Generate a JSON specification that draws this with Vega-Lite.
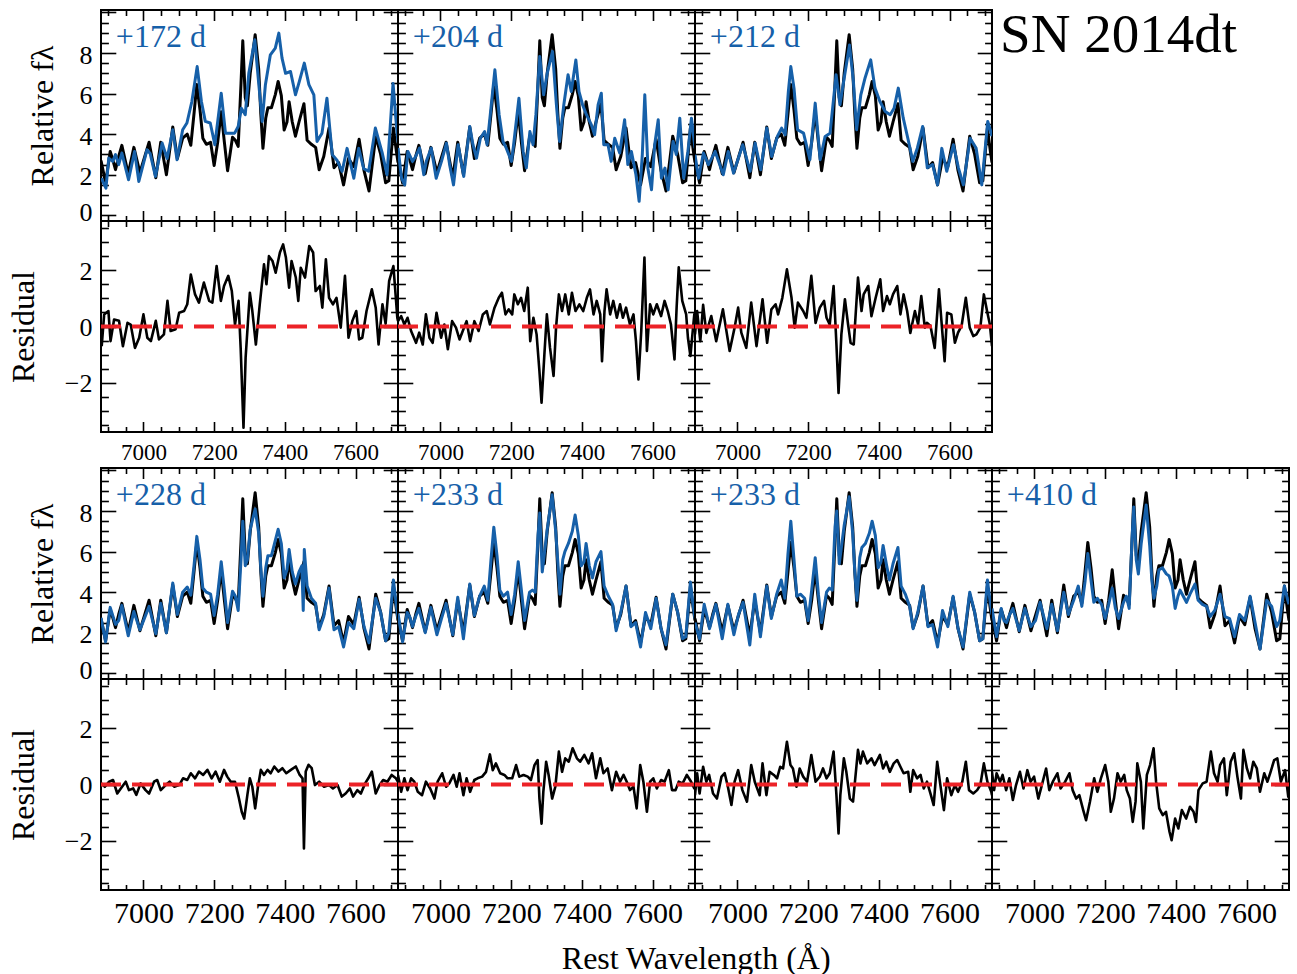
{
  "$schema": "https://vega.github.io/schema/vega-lite/v6.json",
  "padding": {"left": 6, "top": 8, "right": 5, "bottom": 0},
  "config": {
    "view": {"stroke": "black", "strokeWidth": 2},
    "axis": {"domain": false, "grid": false, "tickColor": "black", "tickWidth": 1.6, "labelFont": "Liberation Serif", "labelColor": "black", "titleFont": "Liberation Serif", "titleFontWeight": "normal", "titleColor": "black", "labelFontSize": 26},
    "text": {"font": "Liberation Serif"}
  },
  "datasets": {
    "ref": [{"w":6880,"v":2.7},{"w":6893,"v":1.6},{"w":6906,"v":3.15},{"w":6914,"v":2.7},{"w":6921,"v":2.25},{"w":6930,"v":2.9},{"w":6939,"v":3.45},{"w":6957,"v":2.05},{"w":6973,"v":3.35},{"w":6990,"v":2.1},{"w":7016,"v":3.6},{"w":7035,"v":1.85},{"w":7049,"v":3.6},{"w":7065,"v":2.0},{"w":7083,"v":4.35},{"w":7096,"v":2.8},{"w":7111,"v":3.8},{"w":7124,"v":4.0},{"w":7134,"v":3.45},{"w":7143,"v":5.0},{"w":7151,"v":6.45},{"w":7160,"v":5.2},{"w":7168,"v":3.8},{"w":7178,"v":3.5},{"w":7190,"v":3.6},{"w":7200,"v":2.45},{"w":7210,"v":3.6},{"w":7220,"v":5.1},{"w":7229,"v":3.6},{"w":7238,"v":2.2},{"w":7252,"v":3.85},{"w":7260,"v":3.7},{"w":7268,"v":3.4},{"w":7276,"v":6.5},{"w":7281,"v":8.6},{"w":7288,"v":5.8},{"w":7294,"v":5.4},{"w":7302,"v":7.0},{"w":7316,"v":8.9},{"w":7326,"v":7.2},{"w":7332,"v":5.0},{"w":7338,"v":3.3},{"w":7346,"v":4.8},{"w":7352,"v":5.3},{"w":7362,"v":5.3},{"w":7373,"v":5.95},{"w":7381,"v":6.6},{"w":7390,"v":5.9},{"w":7398,"v":4.2},{"w":7406,"v":4.6},{"w":7412,"v":5.6},{"w":7421,"v":4.6},{"w":7430,"v":3.9},{"w":7440,"v":4.6},{"w":7454,"v":5.5},{"w":7463,"v":3.7},{"w":7475,"v":3.5},{"w":7487,"v":3.35},{"w":7497,"v":2.25},{"w":7510,"v":2.9},{"w":7525,"v":4.3},{"w":7539,"v":2.35},{"w":7552,"v":2.6},{"w":7566,"v":1.5},{"w":7580,"v":2.8},{"w":7595,"v":2.4},{"w":7610,"v":3.75},{"w":7624,"v":2.2},{"w":7638,"v":1.2},{"w":7657,"v":3.9},{"w":7671,"v":3.0},{"w":7685,"v":1.6},{"w":7694,"v":1.7},{"w":7707,"v":4.3},{"w":7715,"v":3.2},{"w":7720,"v":2.6}],
    "b1": [{"w":6881,"v":1.83},{"w":6894,"v":1.34},{"w":6902,"v":2.82},{"w":6913,"v":2.66},{"w":6921,"v":2.99},{"w":6930,"v":2.5},{"w":6939,"v":3.07},{"w":6958,"v":1.75},{"w":6975,"v":3.15},{"w":6987,"v":1.67},{"w":7010,"v":3.23},{"w":7019,"v":3.05},{"w":7034,"v":1.92},{"w":7053,"v":3.56},{"w":7067,"v":2.8},{"w":7083,"v":4.22},{"w":7095,"v":2.74},{"w":7111,"v":4.22},{"w":7123,"v":4.55},{"w":7137,"v":5.61},{"w":7152,"v":7.33},{"w":7164,"v":5.61},{"w":7175,"v":4.63},{"w":7189,"v":4.55},{"w":7202,"v":3.48},{"w":7220,"v":6.02},{"w":7232,"v":4.05},{"w":7246,"v":4.05},{"w":7258,"v":4.05},{"w":7268,"v":4.38},{"w":7277,"v":5.28},{"w":7288,"v":4.96},{"w":7298,"v":7.0},{"w":7315,"v":8.65},{"w":7326,"v":6.52},{"w":7336,"v":4.63},{"w":7345,"v":6.44},{"w":7359,"v":7.91},{"w":7373,"v":8.24},{"w":7383,"v":8.98},{"w":7392,"v":7.75},{"w":7402,"v":7.0},{"w":7416,"v":7.09},{"w":7430,"v":5.94},{"w":7441,"v":6.6},{"w":7455,"v":7.5},{"w":7468,"v":6.44},{"w":7482,"v":5.94},{"w":7491,"v":3.64},{"w":7505,"v":4.05},{"w":7519,"v":5.77},{"w":7534,"v":2.99},{"w":7548,"v":2.7},{"w":7562,"v":2.17},{"w":7576,"v":3.3},{"w":7595,"v":1.83},{"w":7609,"v":3.3},{"w":7623,"v":2.3},{"w":7637,"v":2.17},{"w":7656,"v":4.3},{"w":7675,"v":3.1},{"w":7689,"v":2.0},{"w":7706,"v":6.5},{"w":7717,"v":4.13},{"w":7720,"v":3.6}],
    "b2": [{"w":6880,"v":3.32},{"w":6890,"v":1.83},{"w":6899,"v":1.5},{"w":6908,"v":3.15},{"w":6921,"v":2.66},{"w":6930,"v":2.9},{"w":6941,"v":3.32},{"w":6953,"v":2.0},{"w":6960,"v":2.66},{"w":6974,"v":3.32},{"w":6988,"v":1.83},{"w":7003,"v":2.66},{"w":7017,"v":3.56},{"w":7026,"v":2.5},{"w":7037,"v":1.5},{"w":7050,"v":3.48},{"w":7066,"v":1.92},{"w":7083,"v":4.38},{"w":7092,"v":3.48},{"w":7102,"v":2.82},{"w":7113,"v":3.8},{"w":7125,"v":4.13},{"w":7132,"v":3.48},{"w":7141,"v":4.96},{"w":7154,"v":7.17},{"w":7166,"v":4.96},{"w":7177,"v":3.64},{"w":7186,"v":3.32},{"w":7201,"v":2.66},{"w":7207,"v":3.48},{"w":7222,"v":5.77},{"w":7234,"v":3.15},{"w":7243,"v":2.34},{"w":7253,"v":4.13},{"w":7262,"v":3.48},{"w":7270,"v":4.96},{"w":7281,"v":7.83},{"w":7292,"v":5.94},{"w":7302,"v":7.0},{"w":7317,"v":8.08},{"w":7328,"v":5.45},{"w":7337,"v":3.64},{"w":7349,"v":5.45},{"w":7361,"v":6.93},{"w":7370,"v":6.1},{"w":7383,"v":7.66},{"w":7392,"v":6.1},{"w":7402,"v":5.45},{"w":7413,"v":4.96},{"w":7427,"v":4.46},{"w":7436,"v":3.97},{"w":7446,"v":5.45},{"w":7455,"v":6.02},{"w":7462,"v":3.48},{"w":7474,"v":3.48},{"w":7483,"v":2.66},{"w":7493,"v":3.8},{"w":7507,"v":3.07},{"w":7521,"v":4.71},{"w":7530,"v":2.5},{"w":7540,"v":3.15},{"w":7553,"v":2.0},{"w":7562,"v":0.69},{"w":7571,"v":3.0},{"w":7578,"v":5.94},{"w":7587,"v":2.3},{"w":7597,"v":1.26},{"w":7606,"v":3.48},{"w":7616,"v":4.71},{"w":7625,"v":1.83},{"w":7635,"v":2.33},{"w":7644,"v":1.26},{"w":7658,"v":3.64},{"w":7667,"v":3.0},{"w":7677,"v":4.79},{"w":7688,"v":1.83},{"w":7700,"v":3.15},{"w":7710,"v":4.79},{"w":7720,"v":3.3}],
    "b3": [{"w":6880,"v":2.99},{"w":6890,"v":1.83},{"w":6904,"v":3.07},{"w":6918,"v":2.5},{"w":6937,"v":3.15},{"w":6960,"v":2.0},{"w":6974,"v":3.15},{"w":6989,"v":2.08},{"w":7015,"v":3.48},{"w":7036,"v":2.17},{"w":7050,"v":3.56},{"w":7066,"v":2.25},{"w":7083,"v":4.3},{"w":7097,"v":2.9},{"w":7113,"v":3.89},{"w":7125,"v":4.3},{"w":7135,"v":3.97},{"w":7144,"v":6.1},{"w":7151,"v":7.33},{"w":7160,"v":6.27},{"w":7170,"v":4.22},{"w":7187,"v":4.05},{"w":7205,"v":2.74},{"w":7220,"v":5.53},{"w":7234,"v":2.74},{"w":7248,"v":3.89},{"w":7262,"v":4.05},{"w":7279,"v":6.93},{"w":7290,"v":5.45},{"w":7302,"v":6.77},{"w":7317,"v":8.4},{"w":7328,"v":6.6},{"w":7337,"v":4.22},{"w":7349,"v":5.94},{"w":7361,"v":6.77},{"w":7377,"v":7.66},{"w":7389,"v":6.27},{"w":7403,"v":5.61},{"w":7418,"v":5.12},{"w":7432,"v":4.96},{"w":7443,"v":5.28},{"w":7455,"v":6.27},{"w":7469,"v":4.79},{"w":7484,"v":3.64},{"w":7496,"v":2.66},{"w":7509,"v":3.32},{"w":7524,"v":4.38},{"w":7537,"v":2.34},{"w":7552,"v":2.5},{"w":7566,"v":1.5},{"w":7578,"v":3.3},{"w":7592,"v":2.17},{"w":7611,"v":3.48},{"w":7625,"v":2.34},{"w":7639,"v":1.5},{"w":7658,"v":3.8},{"w":7675,"v":3.32},{"w":7691,"v":1.5},{"w":7708,"v":4.63},{"w":7719,"v":3.97},{"w":7720,"v":3.9}],
    "b4": [{"w":6880,"v":2.74},{"w":6893,"v":1.55},{"w":6906,"v":3.25},{"w":6914,"v":2.8},{"w":6921,"v":2.41},{"w":6930,"v":2.6},{"w":6939,"v":3.35},{"w":6957,"v":1.85},{"w":6973,"v":3.05},{"w":6990,"v":2.14},{"w":7016,"v":3.3},{"w":7035,"v":1.95},{"w":7049,"v":3.45},{"w":7065,"v":2.0},{"w":7083,"v":4.45},{"w":7096,"v":2.9},{"w":7111,"v":4.0},{"w":7124,"v":4.25},{"w":7134,"v":3.85},{"w":7143,"v":5.3},{"w":7151,"v":6.75},{"w":7160,"v":5.6},{"w":7168,"v":4.2},{"w":7178,"v":4.0},{"w":7190,"v":3.9},{"w":7200,"v":2.85},{"w":7210,"v":3.9},{"w":7220,"v":5.5},{"w":7229,"v":4.1},{"w":7238,"v":2.5},{"w":7252,"v":4.05},{"w":7260,"v":3.8},{"w":7268,"v":3.1},{"w":7276,"v":5.6},{"w":7281,"v":7.5},{"w":7288,"v":5.3},{"w":7294,"v":5.6},{"w":7302,"v":7.1},{"w":7316,"v":8.1},{"w":7326,"v":6.9},{"w":7332,"v":5.2},{"w":7338,"v":3.8},{"w":7346,"v":5.2},{"w":7352,"v":5.8},{"w":7362,"v":5.8},{"w":7373,"v":6.55},{"w":7381,"v":7.1},{"w":7390,"v":6.4},{"w":7398,"v":4.7},{"w":7406,"v":5.1},{"w":7412,"v":6.1},{"w":7421,"v":5.0},{"w":7430,"v":4.4},{"w":7440,"v":5.0},{"w":7448,"v":5.3},{"w":7452,"v":3.1},{"w":7455,"v":6.1},{"w":7463,"v":4.3},{"w":7475,"v":3.7},{"w":7487,"v":3.45},{"w":7497,"v":2.15},{"w":7510,"v":2.8},{"w":7525,"v":4.2},{"w":7539,"v":2.15},{"w":7552,"v":2.3},{"w":7566,"v":1.3},{"w":7580,"v":2.5},{"w":7595,"v":2.2},{"w":7610,"v":3.65},{"w":7624,"v":2.3},{"w":7638,"v":1.5},{"w":7657,"v":3.7},{"w":7671,"v":3.0},{"w":7685,"v":1.6},{"w":7694,"v":2.0},{"w":7707,"v":4.6},{"w":7715,"v":3.4},{"w":7720,"v":2.7}],
    "b5": [{"w":6880,"v":2.95},{"w":6893,"v":1.55},{"w":6906,"v":3.0},{"w":6914,"v":2.75},{"w":6921,"v":2.3},{"w":6930,"v":2.8},{"w":6939,"v":3.2},{"w":6957,"v":2.0},{"w":6973,"v":3.25},{"w":6990,"v":1.9},{"w":7003,"v":2.7},{"w":7016,"v":3.45},{"w":7035,"v":1.9},{"w":7049,"v":3.75},{"w":7065,"v":1.7},{"w":7083,"v":4.4},{"w":7096,"v":2.85},{"w":7111,"v":3.8},{"w":7124,"v":4.3},{"w":7134,"v":3.6},{"w":7143,"v":5.6},{"w":7151,"v":7.2},{"w":7160,"v":5.8},{"w":7168,"v":4.1},{"w":7178,"v":3.8},{"w":7190,"v":4.0},{"w":7200,"v":2.9},{"w":7210,"v":3.9},{"w":7220,"v":5.5},{"w":7229,"v":4.1},{"w":7238,"v":2.6},{"w":7252,"v":4.0},{"w":7260,"v":4.1},{"w":7268,"v":4.0},{"w":7276,"v":6.8},{"w":7281,"v":7.9},{"w":7288,"v":5.0},{"w":7294,"v":5.9},{"w":7302,"v":7.1},{"w":7316,"v":8.8},{"w":7326,"v":7.0},{"w":7332,"v":5.5},{"w":7338,"v":3.9},{"w":7346,"v":5.6},{"w":7352,"v":6.0},{"w":7362,"v":6.4},{"w":7373,"v":7.0},{"w":7381,"v":7.8},{"w":7390,"v":6.8},{"w":7398,"v":5.3},{"w":7406,"v":5.5},{"w":7412,"v":6.4},{"w":7421,"v":5.3},{"w":7430,"v":4.7},{"w":7440,"v":5.5},{"w":7454,"v":6.0},{"w":7463,"v":4.3},{"w":7475,"v":3.8},{"w":7487,"v":3.4},{"w":7497,"v":2.1},{"w":7510,"v":3.0},{"w":7525,"v":4.3},{"w":7539,"v":2.3},{"w":7552,"v":2.5},{"w":7566,"v":1.3},{"w":7580,"v":3.0},{"w":7595,"v":2.2},{"w":7610,"v":3.7},{"w":7624,"v":2.2},{"w":7638,"v":1.4},{"w":7657,"v":3.9},{"w":7671,"v":3.0},{"w":7685,"v":1.7},{"w":7694,"v":1.8},{"w":7707,"v":4.5},{"w":7715,"v":3.3},{"w":7720,"v":2.7}],
    "b6": [{"w":6880,"v":2.5},{"w":6893,"v":1.7},{"w":6906,"v":3.4},{"w":6914,"v":2.8},{"w":6921,"v":2.2},{"w":6930,"v":2.8},{"w":6939,"v":3.4},{"w":6957,"v":1.7},{"w":6973,"v":3.4},{"w":6990,"v":1.9},{"w":7003,"v":2.9},{"w":7016,"v":3.5},{"w":7035,"v":1.4},{"w":7049,"v":3.9},{"w":7065,"v":1.8},{"w":7083,"v":4.3},{"w":7096,"v":2.7},{"w":7111,"v":3.9},{"w":7124,"v":4.6},{"w":7134,"v":3.7},{"w":7143,"v":5.9},{"w":7151,"v":7.5},{"w":7160,"v":5.6},{"w":7168,"v":3.8},{"w":7178,"v":3.9},{"w":7190,"v":3.7},{"w":7200,"v":2.6},{"w":7210,"v":4.1},{"w":7220,"v":5.7},{"w":7229,"v":3.9},{"w":7238,"v":2.5},{"w":7252,"v":4.0},{"w":7260,"v":4.2},{"w":7268,"v":4.1},{"w":7276,"v":7.2},{"w":7281,"v":8.0},{"w":7288,"v":5.4},{"w":7294,"v":6.2},{"w":7302,"v":7.3},{"w":7316,"v":8.7},{"w":7326,"v":6.9},{"w":7332,"v":5.0},{"w":7338,"v":3.6},{"w":7346,"v":5.7},{"w":7352,"v":6.2},{"w":7362,"v":6.4},{"w":7373,"v":6.9},{"w":7381,"v":7.5},{"w":7390,"v":6.8},{"w":7398,"v":5.2},{"w":7406,"v":5.5},{"w":7412,"v":6.3},{"w":7421,"v":5.4},{"w":7430,"v":4.6},{"w":7440,"v":5.4},{"w":7454,"v":6.2},{"w":7463,"v":4.3},{"w":7475,"v":3.9},{"w":7487,"v":3.3},{"w":7497,"v":2.2},{"w":7510,"v":3.0},{"w":7525,"v":4.3},{"w":7539,"v":2.3},{"w":7552,"v":2.4},{"w":7566,"v":1.3},{"w":7580,"v":3.1},{"w":7595,"v":2.3},{"w":7610,"v":3.8},{"w":7624,"v":2.2},{"w":7638,"v":1.3},{"w":7657,"v":4.0},{"w":7671,"v":3.0},{"w":7685,"v":1.6},{"w":7694,"v":1.7},{"w":7707,"v":4.6},{"w":7715,"v":3.5},{"w":7720,"v":2.9}],
    "b7": [{"w":6880,"v":3.2},{"w":6893,"v":1.8},{"w":6906,"v":3.2},{"w":6914,"v":2.6},{"w":6921,"v":2.5},{"w":6930,"v":2.9},{"w":6939,"v":3.2},{"w":6957,"v":2.1},{"w":6973,"v":3.2},{"w":6990,"v":2.3},{"w":7003,"v":2.6},{"w":7016,"v":3.5},{"w":7035,"v":2.2},{"w":7049,"v":3.4},{"w":7065,"v":2.1},{"w":7083,"v":4.0},{"w":7096,"v":2.9},{"w":7111,"v":3.6},{"w":7124,"v":4.3},{"w":7134,"v":3.3},{"w":7143,"v":4.5},{"w":7151,"v":5.9},{"w":7160,"v":4.6},{"w":7168,"v":3.5},{"w":7178,"v":3.7},{"w":7190,"v":3.4},{"w":7200,"v":2.7},{"w":7210,"v":3.4},{"w":7220,"v":4.2},{"w":7229,"v":3.2},{"w":7238,"v":2.7},{"w":7252,"v":3.5},{"w":7260,"v":3.8},{"w":7268,"v":3.2},{"w":7276,"v":6.6},{"w":7281,"v":8.2},{"w":7288,"v":5.6},{"w":7294,"v":4.9},{"w":7302,"v":6.4},{"w":7316,"v":8.3},{"w":7326,"v":6.3},{"w":7332,"v":4.6},{"w":7338,"v":3.7},{"w":7346,"v":4.3},{"w":7352,"v":5.1},{"w":7362,"v":5.2},{"w":7373,"v":4.9},{"w":7381,"v":4.8},{"w":7390,"v":4.3},{"w":7398,"v":3.2},{"w":7406,"v":3.8},{"w":7412,"v":4.1},{"w":7421,"v":3.8},{"w":7430,"v":3.5},{"w":7440,"v":3.9},{"w":7454,"v":4.4},{"w":7463,"v":3.6},{"w":7475,"v":3.4},{"w":7487,"v":3.3},{"w":7497,"v":2.8},{"w":7510,"v":3.1},{"w":7525,"v":3.9},{"w":7539,"v":2.8},{"w":7552,"v":2.7},{"w":7566,"v":1.8},{"w":7580,"v":2.9},{"w":7595,"v":2.6},{"w":7610,"v":3.8},{"w":7624,"v":2.5},{"w":7638,"v":1.2},{"w":7657,"v":3.6},{"w":7671,"v":3.3},{"w":7685,"v":2.3},{"w":7694,"v":2.6},{"w":7707,"v":4.3},{"w":7715,"v":3.7},{"w":7720,"v":3.4}],
    "r1": [{"w":6882,"v":-0.7},{"w":6889,"v":0.43},{"w":6901,"v":0.55},{"w":6907,"v":-0.52},{"w":6917,"v":0.25},{"w":6931,"v":0.2},{"w":6942,"v":-0.7},{"w":6955,"v":0.13},{"w":6964,"v":0.07},{"w":6976,"v":-0.76},{"w":6988,"v":-0.4},{"w":7000,"v":0.43},{"w":7011,"v":-0.4},{"w":7021,"v":-0.52},{"w":7035,"v":0.2},{"w":7044,"v":-0.46},{"w":7058,"v":-0.28},{"w":7068,"v":0.91},{"w":7077,"v":-0.16},{"w":7091,"v":-0.1},{"w":7101,"v":0.49},{"w":7115,"v":0.55},{"w":7124,"v":0.79},{"w":7134,"v":1.85},{"w":7146,"v":1.14},{"w":7157,"v":0.85},{"w":7171,"v":1.56},{"w":7186,"v":0.91},{"w":7195,"v":0.85},{"w":7207,"v":2.15},{"w":7219,"v":0.91},{"w":7228,"v":1.44},{"w":7240,"v":1.8},{"w":7250,"v":1.26},{"w":7259,"v":0.07},{"w":7269,"v":0.91},{"w":7275,"v":-0.76},{"w":7283,"v":-3.6},{"w":7289,"v":-1.11},{"w":7301,"v":1.2},{"w":7308,"v":0.55},{"w":7318,"v":-0.64},{"w":7329,"v":0.79},{"w":7341,"v":2.21},{"w":7348,"v":1.5},{"w":7355,"v":2.5},{"w":7365,"v":2.33},{"w":7374,"v":1.91},{"w":7386,"v":2.63},{"w":7395,"v":2.92},{"w":7403,"v":2.45},{"w":7412,"v":1.38},{"w":7419,"v":2.33},{"w":7431,"v":1.74},{"w":7438,"v":0.91},{"w":7445,"v":2.09},{"w":7457,"v":1.74},{"w":7469,"v":2.86},{"w":7480,"v":2.63},{"w":7487,"v":1.26},{"w":7499,"v":1.44},{"w":7506,"v":0.67},{"w":7516,"v":2.39},{"w":7525,"v":1.02},{"w":7536,"v":0.79},{"w":7546,"v":1.02},{"w":7558,"v":-0.04},{"w":7570,"v":1.8},{"w":7580,"v":-0.4},{"w":7591,"v":0.2},{"w":7602,"v":0.55},{"w":7610,"v":-0.46},{"w":7619,"v":-0.4},{"w":7631,"v":0.55},{"w":7646,"v":1.32},{"w":7657,"v":0.67},{"w":7665,"v":-0.64},{"w":7676,"v":0.79},{"w":7685,"v":0.1},{"w":7695,"v":1.62},{"w":7707,"v":2.15},{"w":7714,"v":1.0},{"w":7718,"v":0.31},{"w":7720,"v":0.2}],
    "r2": [{"w":6880,"v":0.19},{"w":6889,"v":0.37},{"w":6898,"v":0.07},{"w":6907,"v":0.31},{"w":6917,"v":-0.16},{"w":6931,"v":-0.58},{"w":6940,"v":-0.22},{"w":6950,"v":-0.64},{"w":6959,"v":0.43},{"w":6969,"v":-0.4},{"w":6978,"v":-0.58},{"w":6989,"v":0.49},{"w":7002,"v":-0.4},{"w":7011,"v":0.07},{"w":7021,"v":-0.81},{"w":7033,"v":0.19},{"w":7044,"v":-0.04},{"w":7054,"v":-0.46},{"w":7065,"v":-0.1},{"w":7074,"v":0.19},{"w":7084,"v":-0.52},{"w":7096,"v":0.19},{"w":7108,"v":-0.16},{"w":7120,"v":0.43},{"w":7131,"v":0.55},{"w":7140,"v":0.07},{"w":7153,"v":0.67},{"w":7165,"v":1.02},{"w":7174,"v":1.2},{"w":7184,"v":0.43},{"w":7193,"v":0.61},{"w":7203,"v":0.43},{"w":7209,"v":1.14},{"w":7219,"v":0.79},{"w":7228,"v":1.02},{"w":7237,"v":0.55},{"w":7247,"v":1.38},{"w":7254,"v":-0.52},{"w":7263,"v":0.31},{"w":7272,"v":-0.28},{"w":7280,"v":-1.59},{"w":7286,"v":-2.71},{"w":7294,"v":-1.0},{"w":7301,"v":0.43},{"w":7310,"v":-0.76},{"w":7320,"v":-1.76},{"w":7327,"v":-0.04},{"w":7335,"v":1.14},{"w":7344,"v":0.55},{"w":7353,"v":1.14},{"w":7363,"v":0.43},{"w":7372,"v":1.2},{"w":7382,"v":0.55},{"w":7393,"v":0.79},{"w":7404,"v":0.55},{"w":7414,"v":1.02},{"w":7423,"v":1.32},{"w":7433,"v":0.43},{"w":7442,"v":0.91},{"w":7452,"v":0.43},{"w":7457,"v":-1.23},{"w":7464,"v":0.55},{"w":7470,"v":1.32},{"w":7480,"v":0.43},{"w":7489,"v":0.91},{"w":7499,"v":0.31},{"w":7508,"v":0.79},{"w":7516,"v":0.31},{"w":7525,"v":0.67},{"w":7536,"v":0.07},{"w":7546,"v":0.43},{"w":7553,"v":-0.52},{"w":7560,"v":-1.88},{"w":7568,"v":-0.16},{"w":7577,"v":2.45},{"w":7584,"v":-0.87},{"w":7593,"v":0.79},{"w":7602,"v":0.43},{"w":7612,"v":0.79},{"w":7624,"v":0.37},{"w":7634,"v":0.91},{"w":7643,"v":0.55},{"w":7652,"v":0.07},{"w":7662,"v":-1.17},{"w":7668,"v":0.67},{"w":7674,"v":2.1},{"w":7684,"v":0.91},{"w":7695,"v":0.43},{"w":7700,"v":-0.4},{"w":7707,"v":-1.05},{"w":7718,"v":0.43},{"w":7720,"v":0.5}],
    "r3": [{"w":6880,"v":-0.28},{"w":6886,"v":0.55},{"w":6895,"v":-0.52},{"w":6903,"v":0.77},{"w":6912,"v":-0.23},{"w":6926,"v":0.37},{"w":6940,"v":-0.52},{"w":6959,"v":0.61},{"w":6978,"v":-0.87},{"w":6992,"v":-0.04},{"w":7002,"v":0.67},{"w":7011,"v":-0.22},{"w":7025,"v":-0.76},{"w":7039,"v":0.85},{"w":7054,"v":-0.7},{"w":7071,"v":0.97},{"w":7084,"v":-0.58},{"w":7096,"v":0.61},{"w":7108,"v":0.79},{"w":7115,"v":0.43},{"w":7127,"v":1.02},{"w":7140,"v":2.03},{"w":7153,"v":1.02},{"w":7162,"v":-0.04},{"w":7171,"v":0.85},{"w":7186,"v":0.55},{"w":7195,"v":0.31},{"w":7209,"v":1.8},{"w":7221,"v":0.13},{"w":7233,"v":0.67},{"w":7245,"v":0.91},{"w":7252,"v":0.31},{"w":7261,"v":0.07},{"w":7272,"v":1.44},{"w":7280,"v":-0.64},{"w":7286,"v":-2.36},{"w":7294,"v":-0.28},{"w":7304,"v":0.97},{"w":7313,"v":0.07},{"w":7320,"v":-0.58},{"w":7329,"v":-0.64},{"w":7341,"v":1.74},{"w":7351,"v":0.55},{"w":7357,"v":1.14},{"w":7370,"v":1.44},{"w":7379,"v":0.37},{"w":7391,"v":1.02},{"w":7404,"v":1.68},{"w":7412,"v":0.55},{"w":7423,"v":1.08},{"w":7431,"v":0.79},{"w":7440,"v":1.14},{"w":7452,"v":1.44},{"w":7461,"v":0.43},{"w":7470,"v":1.14},{"w":7480,"v":0.55},{"w":7489,"v":-0.23},{"w":7502,"v":0.55},{"w":7511,"v":0.07},{"w":7520,"v":1.08},{"w":7530,"v":-0.04},{"w":7536,"v":0.13},{"w":7546,"v":0.02},{"w":7558,"v":-0.76},{"w":7570,"v":1.32},{"w":7577,"v":0.2},{"w":7586,"v":-1.23},{"w":7593,"v":0.49},{"w":7605,"v":0.43},{"w":7615,"v":-0.58},{"w":7624,"v":-0.22},{"w":7634,"v":0.02},{"w":7646,"v":1.02},{"w":7657,"v":-0.04},{"w":7667,"v":-0.34},{"w":7676,"v":-0.28},{"w":7687,"v":-0.04},{"w":7697,"v":1.14},{"w":7706,"v":0.55},{"w":7714,"v":0.07},{"w":7720,"v":-0.7}],
    "r4": [{"w":6882,"v":0.04},{"w":6891,"v":-0.08},{"w":6903,"v":0.1},{"w":6914,"v":0.16},{"w":6926,"v":-0.32},{"w":6936,"v":-0.14},{"w":6950,"v":0.1},{"w":6959,"v":-0.2},{"w":6971,"v":-0.14},{"w":6980,"v":-0.37},{"w":6992,"v":0.04},{"w":7006,"v":-0.2},{"w":7016,"v":-0.32},{"w":7030,"v":0.1},{"w":7039,"v":0.16},{"w":7049,"v":-0.2},{"w":7063,"v":-0.02},{"w":7074,"v":0.1},{"w":7087,"v":-0.08},{"w":7101,"v":-0.02},{"w":7112,"v":0.22},{"w":7124,"v":0.16},{"w":7134,"v":0.4},{"w":7146,"v":0.22},{"w":7157,"v":0.46},{"w":7169,"v":0.34},{"w":7181,"v":0.52},{"w":7193,"v":0.22},{"w":7204,"v":0.46},{"w":7216,"v":0.1},{"w":7228,"v":0.52},{"w":7237,"v":0.28},{"w":7247,"v":0.1},{"w":7259,"v":0.1},{"w":7269,"v":-0.43},{"w":7278,"v":-0.97},{"w":7285,"v":-1.21},{"w":7294,"v":-0.37},{"w":7301,"v":0.22},{"w":7308,"v":-0.08},{"w":7316,"v":-0.85},{"w":7324,"v":-0.08},{"w":7332,"v":0.52},{"w":7341,"v":0.34},{"w":7351,"v":0.52},{"w":7360,"v":0.4},{"w":7370,"v":0.64},{"w":7382,"v":0.46},{"w":7393,"v":0.58},{"w":7404,"v":0.4},{"w":7417,"v":0.52},{"w":7431,"v":0.64},{"w":7442,"v":0.34},{"w":7450,"v":0.22},{"w":7454,"v":-2.27},{"w":7459,"v":0.46},{"w":7467,"v":0.7},{"w":7476,"v":0.58},{"w":7485,"v":-0.02},{"w":7497,"v":0.1},{"w":7511,"v":-0.08},{"w":7525,"v":-0.02},{"w":7536,"v":-0.14},{"w":7549,"v":-0.02},{"w":7561,"v":-0.43},{"w":7572,"v":-0.32},{"w":7584,"v":-0.14},{"w":7593,"v":-0.43},{"w":7605,"v":-0.2},{"w":7615,"v":-0.32},{"w":7627,"v":0.04},{"w":7636,"v":0.22},{"w":7646,"v":0.46},{"w":7657,"v":-0.32},{"w":7668,"v":-0.02},{"w":7678,"v":0.16},{"w":7690,"v":0.1},{"w":7702,"v":0.34},{"w":7714,"v":0.22},{"w":7720,"v":0.1}],
    "r5": [{"w":6880,"v":0.34},{"w":6889,"v":-0.26},{"w":6898,"v":0.22},{"w":6907,"v":-0.2},{"w":6917,"v":0.22},{"w":6926,"v":0.1},{"w":6936,"v":-0.26},{"w":6948,"v":-0.38},{"w":6959,"v":0.1},{"w":6971,"v":-0.14},{"w":6983,"v":-0.5},{"w":6992,"v":0.1},{"w":7005,"v":0.4},{"w":7016,"v":-0.08},{"w":7025,"v":0.04},{"w":7037,"v":0.34},{"w":7046,"v":-0.08},{"w":7054,"v":0.4},{"w":7065,"v":-0.38},{"w":7074,"v":0.22},{"w":7084,"v":-0.26},{"w":7096,"v":0.16},{"w":7105,"v":0.22},{"w":7118,"v":0.28},{"w":7129,"v":0.45},{"w":7140,"v":1.07},{"w":7148,"v":0.51},{"w":7157,"v":0.75},{"w":7169,"v":0.4},{"w":7181,"v":0.34},{"w":7190,"v":0.22},{"w":7203,"v":0.22},{"w":7214,"v":0.69},{"w":7223,"v":0.28},{"w":7235,"v":0.34},{"w":7247,"v":0.28},{"w":7256,"v":0.16},{"w":7266,"v":0.69},{"w":7275,"v":0.87},{"w":7280,"v":-0.5},{"w":7286,"v":-1.39},{"w":7291,"v":-0.26},{"w":7299,"v":0.81},{"w":7306,"v":0.34},{"w":7316,"v":-0.5},{"w":7325,"v":-0.08},{"w":7335,"v":1.17},{"w":7344,"v":0.45},{"w":7353,"v":0.93},{"w":7363,"v":0.81},{"w":7374,"v":1.29},{"w":7386,"v":0.93},{"w":7395,"v":0.81},{"w":7407,"v":1.05},{"w":7419,"v":0.75},{"w":7429,"v":1.11},{"w":7440,"v":0.22},{"w":7452,"v":0.93},{"w":7461,"v":0.4},{"w":7473,"v":0.57},{"w":7485,"v":-0.2},{"w":7497,"v":0.45},{"w":7508,"v":0.1},{"w":7518,"v":0.34},{"w":7527,"v":0.1},{"w":7536,"v":-0.2},{"w":7546,"v":-0.08},{"w":7555,"v":-0.85},{"w":7565,"v":0.69},{"w":7574,"v":0.1},{"w":7584,"v":-0.97},{"w":7593,"v":0.1},{"w":7602,"v":0.22},{"w":7612,"v":-0.14},{"w":7624,"v":0.16},{"w":7634,"v":0.1},{"w":7646,"v":0.51},{"w":7655,"v":-0.2},{"w":7665,"v":-0.2},{"w":7674,"v":0.1},{"w":7685,"v":0.04},{"w":7697,"v":0.34},{"w":7709,"v":0.1},{"w":7718,"v":-0.14},{"w":7720,"v":0.04}],
    "r6": [{"w":6880,"v":-0.38},{"w":6886,"v":0.4},{"w":6893,"v":-0.32},{"w":6903,"v":0.63},{"w":6912,"v":0.1},{"w":6920,"v":0.34},{"w":6931,"v":-0.32},{"w":6942,"v":-0.5},{"w":6955,"v":0.28},{"w":6964,"v":0.4},{"w":6973,"v":-0.08},{"w":6983,"v":-0.73},{"w":6992,"v":0.1},{"w":7002,"v":0.51},{"w":7014,"v":-0.2},{"w":7027,"v":-0.61},{"w":7039,"v":0.69},{"w":7049,"v":0.1},{"w":7063,"v":-0.38},{"w":7071,"v":0.75},{"w":7082,"v":-0.38},{"w":7091,"v":0.45},{"w":7103,"v":0.34},{"w":7112,"v":0.22},{"w":7121,"v":0.63},{"w":7129,"v":0.57},{"w":7140,"v":1.52},{"w":7150,"v":0.69},{"w":7157,"v":0.57},{"w":7167,"v":-0.08},{"w":7176,"v":0.57},{"w":7186,"v":0.28},{"w":7197,"v":0.1},{"w":7209,"v":1.05},{"w":7221,"v":0.1},{"w":7233,"v":0.28},{"w":7242,"v":0.57},{"w":7252,"v":0.22},{"w":7261,"v":0.4},{"w":7272,"v":1.17},{"w":7280,"v":-0.38},{"w":7286,"v":-1.74},{"w":7291,"v":-0.38},{"w":7301,"v":0.93},{"w":7308,"v":0.45},{"w":7318,"v":-0.5},{"w":7327,"v":-0.61},{"w":7341,"v":1.23},{"w":7348,"v":0.75},{"w":7355,"v":1.17},{"w":7367,"v":0.75},{"w":7379,"v":0.93},{"w":7388,"v":0.69},{"w":7403,"v":1.05},{"w":7412,"v":0.57},{"w":7421,"v":0.81},{"w":7431,"v":0.45},{"w":7442,"v":0.75},{"w":7452,"v":0.87},{"w":7461,"v":0.63},{"w":7470,"v":0.4},{"w":7483,"v":0.45},{"w":7489,"v":-0.26},{"w":7497,"v":0.51},{"w":7508,"v":0.22},{"w":7518,"v":0.34},{"w":7527,"v":-0.14},{"w":7536,"v":0.1},{"w":7546,"v":-0.32},{"w":7555,"v":-0.73},{"w":7565,"v":0.81},{"w":7574,"v":-0.02},{"w":7584,"v":-0.91},{"w":7593,"v":0.22},{"w":7605,"v":-0.38},{"w":7615,"v":-0.02},{"w":7624,"v":-0.26},{"w":7636,"v":0.1},{"w":7646,"v":0.81},{"w":7655,"v":-0.2},{"w":7667,"v":-0.32},{"w":7678,"v":-0.2},{"w":7687,"v":-0.02},{"w":7697,"v":0.75},{"w":7707,"v":0.1},{"w":7718,"v":-0.26},{"w":7720,"v":-0.38}],
    "r7": [{"w":6880,"v":0.45},{"w":6886,"v":-0.2},{"w":6893,"v":0.4},{"w":6903,"v":0.1},{"w":6910,"v":0.34},{"w":6920,"v":-0.2},{"w":6929,"v":0.22},{"w":6939,"v":-0.55},{"w":6948,"v":-0.02},{"w":6959,"v":0.45},{"w":6969,"v":-0.14},{"w":6980,"v":0.51},{"w":6989,"v":0.1},{"w":6999,"v":0.28},{"w":7011,"v":-0.5},{"w":7021,"v":-0.02},{"w":7033,"v":0.57},{"w":7042,"v":-0.2},{"w":7052,"v":0.1},{"w":7065,"v":0.4},{"w":7074,"v":-0.14},{"w":7087,"v":0.1},{"w":7099,"v":0.4},{"w":7108,"v":-0.2},{"w":7118,"v":-0.5},{"w":7127,"v":-0.38},{"w":7138,"v":-0.91},{"w":7146,"v":-1.27},{"w":7157,"v":-0.61},{"w":7169,"v":0.22},{"w":7178,"v":-0.26},{"w":7188,"v":0.22},{"w":7200,"v":0.69},{"w":7209,"v":0.1},{"w":7216,"v":-0.97},{"w":7225,"v":-0.5},{"w":7235,"v":0.4},{"w":7244,"v":0.1},{"w":7254,"v":0.34},{"w":7261,"v":-0.2},{"w":7270,"v":-0.5},{"w":7278,"v":-1.33},{"w":7286,"v":-0.61},{"w":7291,"v":0.75},{"w":7301,"v":0.1},{"w":7308,"v":-1.56},{"w":7318,"v":0.34},{"w":7327,"v":0.69},{"w":7337,"v":1.29},{"w":7344,"v":0.1},{"w":7353,"v":-0.85},{"w":7363,"v":-1.09},{"w":7372,"v":-0.97},{"w":7382,"v":-1.68},{"w":7388,"v":-1.98},{"w":7398,"v":-1.21},{"w":7407,"v":-1.56},{"w":7417,"v":-0.91},{"w":7429,"v":-1.21},{"w":7440,"v":-0.79},{"w":7450,"v":-0.97},{"w":7457,"v":-1.33},{"w":7464,"v":-0.2},{"w":7476,"v":0.04},{"w":7487,"v":0.1},{"w":7499,"v":1.17},{"w":7508,"v":0.4},{"w":7518,"v":0.1},{"w":7525,"v":0.69},{"w":7536,"v":0.93},{"w":7544,"v":-0.38},{"w":7555,"v":0.81},{"w":7565,"v":1.11},{"w":7574,"v":0.28},{"w":7584,"v":-0.5},{"w":7591,"v":1.23},{"w":7601,"v":0.57},{"w":7610,"v":0.22},{"w":7619,"v":0.81},{"w":7629,"v":0.57},{"w":7638,"v":-0.26},{"w":7650,"v":0.4},{"w":7659,"v":0.1},{"w":7668,"v":0.45},{"w":7678,"v":0.87},{"w":7687,"v":0.93},{"w":7697,"v":0.1},{"w":7709,"v":0.51},{"w":7718,"v":-0.44},{"w":7720,"v":-0.2}]
  },
  "title": {"text": "Rest Wavelength (Å)", "orient": "bottom", "anchor": "middle", "font": "Liberation Serif", "fontSize": 32, "fontWeight": "normal", "color": "black", "offset": 10, "dx": 47},
  "columns": 4,
  "spacing": 0,
  "bounds": "flush",
  "concat": [
    {"width": 297, "height": 211, "resolve": {"axis": {"x": "independent", "y": "independent"}}, "layer": [
      {"data": {"name": "ref"}, "mark": {"type": "line", "color": "black", "strokeWidth": 3, "strokeJoin": "round", "clip": true},
       "encoding": {"x": {"field": "w", "type": "quantitative", "scale": {"domain": [6880, 7720], "nice": false, "zero": false}, "axis": {"orient": "bottom", "values": [6900,6950,7000,7050,7100,7150,7200,7250,7300,7350,7400,7450,7500,7550,7600,7650,7700], "labels": false, "title": null, "tickSize": {"condition": {"test": "datum.value % 200 === 0", "value": -10.5}, "value": -5.5}}},
                    "y": {"field": "v", "type": "quantitative", "scale": {"domain": [-0.28, 10.12], "nice": false, "zero": false}, "axis": {"orient": "left", "values": [0,0.5,1,1.5,2,2.5,3,3.5,4,4.5,5,5.5,6,6.5,7,7.5,8,8.5,9,9.5,10], "labelExpr": "datum.value === 0 ? '0' : datum.value === 2 ? '2' : datum.value === 4 ? '4' : datum.value === 6 ? '6' : datum.value === 8 ? '8' : ''", "labelFontSize": {"condition": {"test": "datum.value % 2 === 0 && datum.value < 9", "value": 26}, "value": 0}, "labelOffset": {"condition": {"test": "datum.value === 0", "value": -3}, "value": 2}, "labelPadding": 23.8, "labelOverlap": false, "labelFlush": false, "title": "Relative fλ", "titleFontSize": 32, "titlePadding": 20, "tickSize": {"condition": {"test": "datum.value % 2 === 0", "value": -14.8}, "value": -7.4}}}}},
      {"data": {"name": "b1"}, "mark": {"type": "line", "color": "#1660a9", "strokeWidth": 3, "strokeJoin": "round", "clip": true},
       "encoding": {"x": {"field": "w", "type": "quantitative", "scale": {"domain": [6880, 7720], "nice": false, "zero": false}, "axis": {"orient": "top", "values": [6900,6950,7000,7050,7100,7150,7200,7250,7300,7350,7400,7450,7500,7550,7600,7650,7700], "labels": false, "title": null, "tickSize": {"condition": {"test": "datum.value % 200 === 0", "value": -10.5}, "value": -5.5}}},
                    "y": {"field": "v", "type": "quantitative", "scale": {"domain": [-0.28, 10.12], "nice": false, "zero": false}, "axis": {"orient": "right", "values": [0,0.5,1,1.5,2,2.5,3,3.5,4,4.5,5,5.5,6,6.5,7,7.5,8,8.5,9,9.5,10], "labels": false, "title": null, "tickSize": {"condition": {"test": "datum.value % 2 === 0", "value": -14.8}, "value": -7.4}}}}},
      {"data": {"values": [{"label": "+172 d"}]}, "mark": {"type": "text", "align": "left", "baseline": "alphabetic", "font": "Liberation Serif", "fontSize": 32, "color": "#1660a9"},
       "encoding": {"x": {"datum": 6922, "axis": null}, "y": {"datum": 8.3, "axis": null}, "text": {"field": "label"}}}
    ]},
    {"width": 297, "height": 211, "resolve": {"axis": {"x": "independent", "y": "independent"}}, "layer": [
      {"data": {"name": "ref"}, "mark": {"type": "line", "color": "black", "strokeWidth": 3, "strokeJoin": "round", "clip": true},
       "encoding": {"x": {"field": "w", "type": "quantitative", "scale": {"domain": [6880, 7720], "nice": false, "zero": false}, "axis": {"orient": "bottom", "values": [6900,6950,7000,7050,7100,7150,7200,7250,7300,7350,7400,7450,7500,7550,7600,7650,7700], "labels": false, "title": null, "tickSize": {"condition": {"test": "datum.value % 200 === 0", "value": -10.5}, "value": -5.5}}},
                    "y": {"field": "v", "type": "quantitative", "scale": {"domain": [-0.28, 10.12], "nice": false, "zero": false}, "axis": {"orient": "left", "values": [0,0.5,1,1.5,2,2.5,3,3.5,4,4.5,5,5.5,6,6.5,7,7.5,8,8.5,9,9.5,10], "labels": false, "title": null, "tickSize": {"condition": {"test": "datum.value % 2 === 0", "value": -14.8}, "value": -7.4}}}}},
      {"data": {"name": "b2"}, "mark": {"type": "line", "color": "#1660a9", "strokeWidth": 3, "strokeJoin": "round", "clip": true},
       "encoding": {"x": {"field": "w", "type": "quantitative", "scale": {"domain": [6880, 7720], "nice": false, "zero": false}, "axis": {"orient": "top", "values": [6900,6950,7000,7050,7100,7150,7200,7250,7300,7350,7400,7450,7500,7550,7600,7650,7700], "labels": false, "title": null, "tickSize": {"condition": {"test": "datum.value % 200 === 0", "value": -10.5}, "value": -5.5}}},
                    "y": {"field": "v", "type": "quantitative", "scale": {"domain": [-0.28, 10.12], "nice": false, "zero": false}, "axis": {"orient": "right", "values": [0,0.5,1,1.5,2,2.5,3,3.5,4,4.5,5,5.5,6,6.5,7,7.5,8,8.5,9,9.5,10], "labels": false, "title": null, "tickSize": {"condition": {"test": "datum.value % 2 === 0", "value": -14.8}, "value": -7.4}}}}},
      {"data": {"values": [{"label": "+204 d"}]}, "mark": {"type": "text", "align": "left", "baseline": "alphabetic", "font": "Liberation Serif", "fontSize": 32, "color": "#1660a9"},
       "encoding": {"x": {"datum": 6922, "axis": null}, "y": {"datum": 8.3, "axis": null}, "text": {"field": "label"}}}
    ]},
    {"width": 297, "height": 211, "resolve": {"axis": {"x": "independent", "y": "independent"}}, "layer": [
      {"data": {"name": "ref"}, "mark": {"type": "line", "color": "black", "strokeWidth": 3, "strokeJoin": "round", "clip": true},
       "encoding": {"x": {"field": "w", "type": "quantitative", "scale": {"domain": [6880, 7720], "nice": false, "zero": false}, "axis": {"orient": "bottom", "values": [6900,6950,7000,7050,7100,7150,7200,7250,7300,7350,7400,7450,7500,7550,7600,7650,7700], "labels": false, "title": null, "tickSize": {"condition": {"test": "datum.value % 200 === 0", "value": -10.5}, "value": -5.5}}},
                    "y": {"field": "v", "type": "quantitative", "scale": {"domain": [-0.28, 10.12], "nice": false, "zero": false}, "axis": {"orient": "left", "values": [0,0.5,1,1.5,2,2.5,3,3.5,4,4.5,5,5.5,6,6.5,7,7.5,8,8.5,9,9.5,10], "labels": false, "title": null, "tickSize": {"condition": {"test": "datum.value % 2 === 0", "value": -14.8}, "value": -7.4}}}}},
      {"data": {"name": "b3"}, "mark": {"type": "line", "color": "#1660a9", "strokeWidth": 3, "strokeJoin": "round", "clip": true},
       "encoding": {"x": {"field": "w", "type": "quantitative", "scale": {"domain": [6880, 7720], "nice": false, "zero": false}, "axis": {"orient": "top", "values": [6900,6950,7000,7050,7100,7150,7200,7250,7300,7350,7400,7450,7500,7550,7600,7650,7700], "labels": false, "title": null, "tickSize": {"condition": {"test": "datum.value % 200 === 0", "value": -10.5}, "value": -5.5}}},
                    "y": {"field": "v", "type": "quantitative", "scale": {"domain": [-0.28, 10.12], "nice": false, "zero": false}, "axis": {"orient": "right", "values": [0,0.5,1,1.5,2,2.5,3,3.5,4,4.5,5,5.5,6,6.5,7,7.5,8,8.5,9,9.5,10], "labels": false, "title": null, "tickSize": {"condition": {"test": "datum.value % 2 === 0", "value": -14.8}, "value": -7.4}}}}},
      {"data": {"values": [{"label": "+212 d"}]}, "mark": {"type": "text", "align": "left", "baseline": "alphabetic", "font": "Liberation Serif", "fontSize": 32, "color": "#1660a9"},
       "encoding": {"x": {"datum": 6922, "axis": null}, "y": {"datum": 8.3, "axis": null}, "text": {"field": "label"}}}
    ]},
    {"width": 253, "height": 84, "view": {"stroke": null}, "data": {"values": [{"name": "SN 2014dt"}]},
     "mark": {"type": "text", "align": "center", "baseline": "alphabetic", "font": "Liberation Serif", "fontSize": 55, "color": "black"},
     "encoding": {"text": {"field": "name"}}},

    {"width": 297, "height": 211, "resolve": {"axis": {"x": "independent", "y": "independent"}}, "layer": [
      {"data": {"name": "r1"}, "mark": {"type": "line", "color": "black", "strokeWidth": 2.6, "strokeJoin": "round", "clip": true},
       "encoding": {"x": {"field": "w", "type": "quantitative", "scale": {"domain": [6880, 7720], "nice": false, "zero": false}, "axis": {"orient": "bottom", "values": [6900,6950,7000,7050,7100,7150,7200,7250,7300,7350,7400,7450,7500,7550,7600,7650,7700], "labelExpr": "datum.value % 200 === 0 ? format(datum.value, 'd') : ''", "labelFontSize": 23, "labelPadding": 19.5, "labelOverlap": false, "labelFlush": false, "title": null, "tickSize": {"condition": {"test": "datum.value % 200 === 0", "value": -10.5}, "value": -5.5}}},
                    "y": {"field": "v", "type": "quantitative", "scale": {"domain": [-3.75, 3.75], "nice": false, "zero": false}, "axis": {"orient": "left", "values": [-3.5,-3,-2.5,-2,-1.5,-1,-0.5,0,0.5,1,1.5,2,2.5,3,3.5], "labelExpr": "datum.value === 2 ? '2' : datum.value === 0 ? '0' : datum.value === -2 ? '−2' : ''", "labelFontSize": {"condition": {"test": "datum.value === 2 || datum.value === 0 || datum.value === -2", "value": 26}, "value": 0}, "labelOffset": 1, "labelPadding": 23.8, "labelOverlap": false, "labelFlush": false, "title": "Residual", "titleFontSize": 32, "titlePadding": 24, "tickSize": {"condition": {"test": "datum.value % 2 === 0", "value": -14.8}, "value": -7.4}}}}},
      {"data": {"values": [{}]}, "mark": {"type": "rule", "color": "#ec2227", "strokeWidth": 4, "strokeDash": [20, 11]},
       "encoding": {"x": {"datum": 6880, "scale": {"domain": [6880, 7720], "nice": false, "zero": false}, "axis": {"orient": "top", "values": [6900,6950,7000,7050,7100,7150,7200,7250,7300,7350,7400,7450,7500,7550,7600,7650,7700], "labels": false, "title": null, "tickSize": {"condition": {"test": "datum.value % 200 === 0", "value": -10.5}, "value": -5.5}}}, "x2": {"datum": 7720},
                    "y": {"datum": 0, "scale": {"domain": [-3.75, 3.75], "nice": false, "zero": false}, "axis": {"orient": "right", "values": [-3.5,-3,-2.5,-2,-1.5,-1,-0.5,0,0.5,1,1.5,2,2.5,3,3.5], "labels": false, "title": null, "tickSize": {"condition": {"test": "datum.value % 2 === 0", "value": -14.8}, "value": -7.4}}}}}
    ]},
    {"width": 297, "height": 211, "resolve": {"axis": {"x": "independent", "y": "independent"}}, "layer": [
      {"data": {"name": "r2"}, "mark": {"type": "line", "color": "black", "strokeWidth": 2.6, "strokeJoin": "round", "clip": true},
       "encoding": {"x": {"field": "w", "type": "quantitative", "scale": {"domain": [6880, 7720], "nice": false, "zero": false}, "axis": {"orient": "bottom", "values": [6900,6950,7000,7050,7100,7150,7200,7250,7300,7350,7400,7450,7500,7550,7600,7650,7700], "labelExpr": "datum.value % 200 === 0 ? format(datum.value, 'd') : ''", "labelFontSize": 23, "labelPadding": 19.5, "labelOverlap": false, "labelFlush": false, "title": null, "tickSize": {"condition": {"test": "datum.value % 200 === 0", "value": -10.5}, "value": -5.5}}},
                    "y": {"field": "v", "type": "quantitative", "scale": {"domain": [-3.75, 3.75], "nice": false, "zero": false}, "axis": {"orient": "left", "values": [-3.5,-3,-2.5,-2,-1.5,-1,-0.5,0,0.5,1,1.5,2,2.5,3,3.5], "labels": false, "title": null, "tickSize": {"condition": {"test": "datum.value % 2 === 0", "value": -14.8}, "value": -7.4}}}}},
      {"data": {"values": [{}]}, "mark": {"type": "rule", "color": "#ec2227", "strokeWidth": 4, "strokeDash": [20, 11]},
       "encoding": {"x": {"datum": 6880, "scale": {"domain": [6880, 7720], "nice": false, "zero": false}, "axis": {"orient": "top", "values": [6900,6950,7000,7050,7100,7150,7200,7250,7300,7350,7400,7450,7500,7550,7600,7650,7700], "labels": false, "title": null, "tickSize": {"condition": {"test": "datum.value % 200 === 0", "value": -10.5}, "value": -5.5}}}, "x2": {"datum": 7720},
                    "y": {"datum": 0, "scale": {"domain": [-3.75, 3.75], "nice": false, "zero": false}, "axis": {"orient": "right", "values": [-3.5,-3,-2.5,-2,-1.5,-1,-0.5,0,0.5,1,1.5,2,2.5,3,3.5], "labels": false, "title": null, "tickSize": {"condition": {"test": "datum.value % 2 === 0", "value": -14.8}, "value": -7.4}}}}}
    ]},
    {"width": 297, "height": 211, "resolve": {"axis": {"x": "independent", "y": "independent"}}, "layer": [
      {"data": {"name": "r3"}, "mark": {"type": "line", "color": "black", "strokeWidth": 2.6, "strokeJoin": "round", "clip": true},
       "encoding": {"x": {"field": "w", "type": "quantitative", "scale": {"domain": [6880, 7720], "nice": false, "zero": false}, "axis": {"orient": "bottom", "values": [6900,6950,7000,7050,7100,7150,7200,7250,7300,7350,7400,7450,7500,7550,7600,7650,7700], "labelExpr": "datum.value % 200 === 0 ? format(datum.value, 'd') : ''", "labelFontSize": 23, "labelPadding": 19.5, "labelOverlap": false, "labelFlush": false, "title": null, "tickSize": {"condition": {"test": "datum.value % 200 === 0", "value": -10.5}, "value": -5.5}}},
                    "y": {"field": "v", "type": "quantitative", "scale": {"domain": [-3.75, 3.75], "nice": false, "zero": false}, "axis": {"orient": "left", "values": [-3.5,-3,-2.5,-2,-1.5,-1,-0.5,0,0.5,1,1.5,2,2.5,3,3.5], "labels": false, "title": null, "tickSize": {"condition": {"test": "datum.value % 2 === 0", "value": -14.8}, "value": -7.4}}}}},
      {"data": {"values": [{}]}, "mark": {"type": "rule", "color": "#ec2227", "strokeWidth": 4, "strokeDash": [20, 11]},
       "encoding": {"x": {"datum": 6880, "scale": {"domain": [6880, 7720], "nice": false, "zero": false}, "axis": {"orient": "top", "values": [6900,6950,7000,7050,7100,7150,7200,7250,7300,7350,7400,7450,7500,7550,7600,7650,7700], "labels": false, "title": null, "tickSize": {"condition": {"test": "datum.value % 200 === 0", "value": -10.5}, "value": -5.5}}}, "x2": {"datum": 7720},
                    "y": {"datum": 0, "scale": {"domain": [-3.75, 3.75], "nice": false, "zero": false}, "axis": {"orient": "right", "values": [-3.5,-3,-2.5,-2,-1.5,-1,-0.5,0,0.5,1,1.5,2,2.5,3,3.5], "labels": false, "title": null, "tickSize": {"condition": {"test": "datum.value % 2 === 0", "value": -14.8}, "value": -7.4}}}}}
    ]},
    {"width": 10, "height": 10, "view": {"stroke": null}, "data": {"values": []}, "mark": "point"},

    {"width": 10, "height": 36, "view": {"stroke": null}, "data": {"values": []}, "mark": "point"},
    {"width": 10, "height": 36, "view": {"stroke": null}, "data": {"values": []}, "mark": "point"},
    {"width": 10, "height": 36, "view": {"stroke": null}, "data": {"values": []}, "mark": "point"},
    {"width": 10, "height": 36, "view": {"stroke": null}, "data": {"values": []}, "mark": "point"},

    {"width": 297, "height": 211, "resolve": {"axis": {"x": "independent", "y": "independent"}}, "layer": [
      {"data": {"name": "ref"}, "mark": {"type": "line", "color": "black", "strokeWidth": 3, "strokeJoin": "round", "clip": true},
       "encoding": {"x": {"field": "w", "type": "quantitative", "scale": {"domain": [6880, 7720], "nice": false, "zero": false}, "axis": {"orient": "bottom", "values": [6900,6950,7000,7050,7100,7150,7200,7250,7300,7350,7400,7450,7500,7550,7600,7650,7700], "labels": false, "title": null, "tickSize": {"condition": {"test": "datum.value % 200 === 0", "value": -10.5}, "value": -5.5}}},
                    "y": {"field": "v", "type": "quantitative", "scale": {"domain": [-0.28, 10.12], "nice": false, "zero": false}, "axis": {"orient": "left", "values": [0,0.5,1,1.5,2,2.5,3,3.5,4,4.5,5,5.5,6,6.5,7,7.5,8,8.5,9,9.5,10], "labelExpr": "datum.value === 0 ? '0' : datum.value === 2 ? '2' : datum.value === 4 ? '4' : datum.value === 6 ? '6' : datum.value === 8 ? '8' : ''", "labelFontSize": {"condition": {"test": "datum.value % 2 === 0 && datum.value < 9", "value": 26}, "value": 0}, "labelOffset": {"condition": {"test": "datum.value === 0", "value": -3}, "value": 2}, "labelPadding": 23.8, "labelOverlap": false, "labelFlush": false, "title": "Relative fλ", "titleFontSize": 32, "titlePadding": 20, "tickSize": {"condition": {"test": "datum.value % 2 === 0", "value": -14.8}, "value": -7.4}}}}},
      {"data": {"name": "b4"}, "mark": {"type": "line", "color": "#1660a9", "strokeWidth": 3, "strokeJoin": "round", "clip": true},
       "encoding": {"x": {"field": "w", "type": "quantitative", "scale": {"domain": [6880, 7720], "nice": false, "zero": false}, "axis": {"orient": "top", "values": [6900,6950,7000,7050,7100,7150,7200,7250,7300,7350,7400,7450,7500,7550,7600,7650,7700], "labels": false, "title": null, "tickSize": {"condition": {"test": "datum.value % 200 === 0", "value": -10.5}, "value": -5.5}}},
                    "y": {"field": "v", "type": "quantitative", "scale": {"domain": [-0.28, 10.12], "nice": false, "zero": false}, "axis": {"orient": "right", "values": [0,0.5,1,1.5,2,2.5,3,3.5,4,4.5,5,5.5,6,6.5,7,7.5,8,8.5,9,9.5,10], "labels": false, "title": null, "tickSize": {"condition": {"test": "datum.value % 2 === 0", "value": -14.8}, "value": -7.4}}}}},
      {"data": {"values": [{"label": "+228 d"}]}, "mark": {"type": "text", "align": "left", "baseline": "alphabetic", "font": "Liberation Serif", "fontSize": 32, "color": "#1660a9"},
       "encoding": {"x": {"datum": 6922, "axis": null}, "y": {"datum": 8.3, "axis": null}, "text": {"field": "label"}}}
    ]},
    {"width": 297, "height": 211, "resolve": {"axis": {"x": "independent", "y": "independent"}}, "layer": [
      {"data": {"name": "ref"}, "mark": {"type": "line", "color": "black", "strokeWidth": 3, "strokeJoin": "round", "clip": true},
       "encoding": {"x": {"field": "w", "type": "quantitative", "scale": {"domain": [6880, 7720], "nice": false, "zero": false}, "axis": {"orient": "bottom", "values": [6900,6950,7000,7050,7100,7150,7200,7250,7300,7350,7400,7450,7500,7550,7600,7650,7700], "labels": false, "title": null, "tickSize": {"condition": {"test": "datum.value % 200 === 0", "value": -10.5}, "value": -5.5}}},
                    "y": {"field": "v", "type": "quantitative", "scale": {"domain": [-0.28, 10.12], "nice": false, "zero": false}, "axis": {"orient": "left", "values": [0,0.5,1,1.5,2,2.5,3,3.5,4,4.5,5,5.5,6,6.5,7,7.5,8,8.5,9,9.5,10], "labels": false, "title": null, "tickSize": {"condition": {"test": "datum.value % 2 === 0", "value": -14.8}, "value": -7.4}}}}},
      {"data": {"name": "b5"}, "mark": {"type": "line", "color": "#1660a9", "strokeWidth": 3, "strokeJoin": "round", "clip": true},
       "encoding": {"x": {"field": "w", "type": "quantitative", "scale": {"domain": [6880, 7720], "nice": false, "zero": false}, "axis": {"orient": "top", "values": [6900,6950,7000,7050,7100,7150,7200,7250,7300,7350,7400,7450,7500,7550,7600,7650,7700], "labels": false, "title": null, "tickSize": {"condition": {"test": "datum.value % 200 === 0", "value": -10.5}, "value": -5.5}}},
                    "y": {"field": "v", "type": "quantitative", "scale": {"domain": [-0.28, 10.12], "nice": false, "zero": false}, "axis": {"orient": "right", "values": [0,0.5,1,1.5,2,2.5,3,3.5,4,4.5,5,5.5,6,6.5,7,7.5,8,8.5,9,9.5,10], "labels": false, "title": null, "tickSize": {"condition": {"test": "datum.value % 2 === 0", "value": -14.8}, "value": -7.4}}}}},
      {"data": {"values": [{"label": "+233 d"}]}, "mark": {"type": "text", "align": "left", "baseline": "alphabetic", "font": "Liberation Serif", "fontSize": 32, "color": "#1660a9"},
       "encoding": {"x": {"datum": 6922, "axis": null}, "y": {"datum": 8.3, "axis": null}, "text": {"field": "label"}}}
    ]},
    {"width": 297, "height": 211, "resolve": {"axis": {"x": "independent", "y": "independent"}}, "layer": [
      {"data": {"name": "ref"}, "mark": {"type": "line", "color": "black", "strokeWidth": 3, "strokeJoin": "round", "clip": true},
       "encoding": {"x": {"field": "w", "type": "quantitative", "scale": {"domain": [6880, 7720], "nice": false, "zero": false}, "axis": {"orient": "bottom", "values": [6900,6950,7000,7050,7100,7150,7200,7250,7300,7350,7400,7450,7500,7550,7600,7650,7700], "labels": false, "title": null, "tickSize": {"condition": {"test": "datum.value % 200 === 0", "value": -10.5}, "value": -5.5}}},
                    "y": {"field": "v", "type": "quantitative", "scale": {"domain": [-0.28, 10.12], "nice": false, "zero": false}, "axis": {"orient": "left", "values": [0,0.5,1,1.5,2,2.5,3,3.5,4,4.5,5,5.5,6,6.5,7,7.5,8,8.5,9,9.5,10], "labels": false, "title": null, "tickSize": {"condition": {"test": "datum.value % 2 === 0", "value": -14.8}, "value": -7.4}}}}},
      {"data": {"name": "b6"}, "mark": {"type": "line", "color": "#1660a9", "strokeWidth": 3, "strokeJoin": "round", "clip": true},
       "encoding": {"x": {"field": "w", "type": "quantitative", "scale": {"domain": [6880, 7720], "nice": false, "zero": false}, "axis": {"orient": "top", "values": [6900,6950,7000,7050,7100,7150,7200,7250,7300,7350,7400,7450,7500,7550,7600,7650,7700], "labels": false, "title": null, "tickSize": {"condition": {"test": "datum.value % 200 === 0", "value": -10.5}, "value": -5.5}}},
                    "y": {"field": "v", "type": "quantitative", "scale": {"domain": [-0.28, 10.12], "nice": false, "zero": false}, "axis": {"orient": "right", "values": [0,0.5,1,1.5,2,2.5,3,3.5,4,4.5,5,5.5,6,6.5,7,7.5,8,8.5,9,9.5,10], "labels": false, "title": null, "tickSize": {"condition": {"test": "datum.value % 2 === 0", "value": -14.8}, "value": -7.4}}}}},
      {"data": {"values": [{"label": "+233 d"}]}, "mark": {"type": "text", "align": "left", "baseline": "alphabetic", "font": "Liberation Serif", "fontSize": 32, "color": "#1660a9"},
       "encoding": {"x": {"datum": 6922, "axis": null}, "y": {"datum": 8.3, "axis": null}, "text": {"field": "label"}}}
    ]},
    {"width": 297, "height": 211, "resolve": {"axis": {"x": "independent", "y": "independent"}}, "layer": [
      {"data": {"name": "ref"}, "mark": {"type": "line", "color": "black", "strokeWidth": 3, "strokeJoin": "round", "clip": true},
       "encoding": {"x": {"field": "w", "type": "quantitative", "scale": {"domain": [6880, 7720], "nice": false, "zero": false}, "axis": {"orient": "bottom", "values": [6900,6950,7000,7050,7100,7150,7200,7250,7300,7350,7400,7450,7500,7550,7600,7650,7700], "labels": false, "title": null, "tickSize": {"condition": {"test": "datum.value % 200 === 0", "value": -10.5}, "value": -5.5}}},
                    "y": {"field": "v", "type": "quantitative", "scale": {"domain": [-0.28, 10.12], "nice": false, "zero": false}, "axis": {"orient": "left", "values": [0,0.5,1,1.5,2,2.5,3,3.5,4,4.5,5,5.5,6,6.5,7,7.5,8,8.5,9,9.5,10], "labels": false, "title": null, "tickSize": {"condition": {"test": "datum.value % 2 === 0", "value": -14.8}, "value": -7.4}}}}},
      {"data": {"name": "b7"}, "mark": {"type": "line", "color": "#1660a9", "strokeWidth": 3, "strokeJoin": "round", "clip": true},
       "encoding": {"x": {"field": "w", "type": "quantitative", "scale": {"domain": [6880, 7720], "nice": false, "zero": false}, "axis": {"orient": "top", "values": [6900,6950,7000,7050,7100,7150,7200,7250,7300,7350,7400,7450,7500,7550,7600,7650,7700], "labels": false, "title": null, "tickSize": {"condition": {"test": "datum.value % 200 === 0", "value": -10.5}, "value": -5.5}}},
                    "y": {"field": "v", "type": "quantitative", "scale": {"domain": [-0.28, 10.12], "nice": false, "zero": false}, "axis": {"orient": "right", "values": [0,0.5,1,1.5,2,2.5,3,3.5,4,4.5,5,5.5,6,6.5,7,7.5,8,8.5,9,9.5,10], "labels": false, "title": null, "tickSize": {"condition": {"test": "datum.value % 2 === 0", "value": -14.8}, "value": -7.4}}}}},
      {"data": {"values": [{"label": "+410 d"}]}, "mark": {"type": "text", "align": "left", "baseline": "alphabetic", "font": "Liberation Serif", "fontSize": 32, "color": "#1660a9"},
       "encoding": {"x": {"datum": 6922, "axis": null}, "y": {"datum": 8.3, "axis": null}, "text": {"field": "label"}}}
    ]},

    {"width": 297, "height": 211, "resolve": {"axis": {"x": "independent", "y": "independent"}}, "layer": [
      {"data": {"name": "r4"}, "mark": {"type": "line", "color": "black", "strokeWidth": 2.6, "strokeJoin": "round", "clip": true},
       "encoding": {"x": {"field": "w", "type": "quantitative", "scale": {"domain": [6880, 7720], "nice": false, "zero": false}, "axis": {"orient": "bottom", "values": [6900,6950,7000,7050,7100,7150,7200,7250,7300,7350,7400,7450,7500,7550,7600,7650,7700], "labelExpr": "datum.value % 200 === 0 ? format(datum.value, 'd') : ''", "labelFontSize": 30, "labelPadding": 18.5, "labelOverlap": false, "labelFlush": false, "title": null, "tickSize": {"condition": {"test": "datum.value % 200 === 0", "value": -10.5}, "value": -5.5}}},
                    "y": {"field": "v", "type": "quantitative", "scale": {"domain": [-3.75, 3.75], "nice": false, "zero": false}, "axis": {"orient": "left", "values": [-3.5,-3,-2.5,-2,-1.5,-1,-0.5,0,0.5,1,1.5,2,2.5,3,3.5], "labelExpr": "datum.value === 2 ? '2' : datum.value === 0 ? '0' : datum.value === -2 ? '−2' : ''", "labelFontSize": {"condition": {"test": "datum.value === 2 || datum.value === 0 || datum.value === -2", "value": 26}, "value": 0}, "labelOffset": 1, "labelPadding": 23.8, "labelOverlap": false, "labelFlush": false, "title": "Residual", "titleFontSize": 32, "titlePadding": 24, "tickSize": {"condition": {"test": "datum.value % 2 === 0", "value": -14.8}, "value": -7.4}}}}},
      {"data": {"values": [{}]}, "mark": {"type": "rule", "color": "#ec2227", "strokeWidth": 4, "strokeDash": [20, 11]},
       "encoding": {"x": {"datum": 6880, "scale": {"domain": [6880, 7720], "nice": false, "zero": false}, "axis": {"orient": "top", "values": [6900,6950,7000,7050,7100,7150,7200,7250,7300,7350,7400,7450,7500,7550,7600,7650,7700], "labels": false, "title": null, "tickSize": {"condition": {"test": "datum.value % 200 === 0", "value": -10.5}, "value": -5.5}}}, "x2": {"datum": 7720},
                    "y": {"datum": 0, "scale": {"domain": [-3.75, 3.75], "nice": false, "zero": false}, "axis": {"orient": "right", "values": [-3.5,-3,-2.5,-2,-1.5,-1,-0.5,0,0.5,1,1.5,2,2.5,3,3.5], "labels": false, "title": null, "tickSize": {"condition": {"test": "datum.value % 2 === 0", "value": -14.8}, "value": -7.4}}}}}
    ]},
    {"width": 297, "height": 211, "resolve": {"axis": {"x": "independent", "y": "independent"}}, "layer": [
      {"data": {"name": "r5"}, "mark": {"type": "line", "color": "black", "strokeWidth": 2.6, "strokeJoin": "round", "clip": true},
       "encoding": {"x": {"field": "w", "type": "quantitative", "scale": {"domain": [6880, 7720], "nice": false, "zero": false}, "axis": {"orient": "bottom", "values": [6900,6950,7000,7050,7100,7150,7200,7250,7300,7350,7400,7450,7500,7550,7600,7650,7700], "labelExpr": "datum.value % 200 === 0 ? format(datum.value, 'd') : ''", "labelFontSize": 30, "labelPadding": 18.5, "labelOverlap": false, "labelFlush": false, "title": null, "tickSize": {"condition": {"test": "datum.value % 200 === 0", "value": -10.5}, "value": -5.5}}},
                    "y": {"field": "v", "type": "quantitative", "scale": {"domain": [-3.75, 3.75], "nice": false, "zero": false}, "axis": {"orient": "left", "values": [-3.5,-3,-2.5,-2,-1.5,-1,-0.5,0,0.5,1,1.5,2,2.5,3,3.5], "labels": false, "title": null, "tickSize": {"condition": {"test": "datum.value % 2 === 0", "value": -14.8}, "value": -7.4}}}}},
      {"data": {"values": [{}]}, "mark": {"type": "rule", "color": "#ec2227", "strokeWidth": 4, "strokeDash": [20, 11]},
       "encoding": {"x": {"datum": 6880, "scale": {"domain": [6880, 7720], "nice": false, "zero": false}, "axis": {"orient": "top", "values": [6900,6950,7000,7050,7100,7150,7200,7250,7300,7350,7400,7450,7500,7550,7600,7650,7700], "labels": false, "title": null, "tickSize": {"condition": {"test": "datum.value % 200 === 0", "value": -10.5}, "value": -5.5}}}, "x2": {"datum": 7720},
                    "y": {"datum": 0, "scale": {"domain": [-3.75, 3.75], "nice": false, "zero": false}, "axis": {"orient": "right", "values": [-3.5,-3,-2.5,-2,-1.5,-1,-0.5,0,0.5,1,1.5,2,2.5,3,3.5], "labels": false, "title": null, "tickSize": {"condition": {"test": "datum.value % 2 === 0", "value": -14.8}, "value": -7.4}}}}}
    ]},
    {"width": 297, "height": 211, "resolve": {"axis": {"x": "independent", "y": "independent"}}, "layer": [
      {"data": {"name": "r6"}, "mark": {"type": "line", "color": "black", "strokeWidth": 2.6, "strokeJoin": "round", "clip": true},
       "encoding": {"x": {"field": "w", "type": "quantitative", "scale": {"domain": [6880, 7720], "nice": false, "zero": false}, "axis": {"orient": "bottom", "values": [6900,6950,7000,7050,7100,7150,7200,7250,7300,7350,7400,7450,7500,7550,7600,7650,7700], "labelExpr": "datum.value % 200 === 0 ? format(datum.value, 'd') : ''", "labelFontSize": 30, "labelPadding": 18.5, "labelOverlap": false, "labelFlush": false, "title": null, "tickSize": {"condition": {"test": "datum.value % 200 === 0", "value": -10.5}, "value": -5.5}}},
                    "y": {"field": "v", "type": "quantitative", "scale": {"domain": [-3.75, 3.75], "nice": false, "zero": false}, "axis": {"orient": "left", "values": [-3.5,-3,-2.5,-2,-1.5,-1,-0.5,0,0.5,1,1.5,2,2.5,3,3.5], "labels": false, "title": null, "tickSize": {"condition": {"test": "datum.value % 2 === 0", "value": -14.8}, "value": -7.4}}}}},
      {"data": {"values": [{}]}, "mark": {"type": "rule", "color": "#ec2227", "strokeWidth": 4, "strokeDash": [20, 11]},
       "encoding": {"x": {"datum": 6880, "scale": {"domain": [6880, 7720], "nice": false, "zero": false}, "axis": {"orient": "top", "values": [6900,6950,7000,7050,7100,7150,7200,7250,7300,7350,7400,7450,7500,7550,7600,7650,7700], "labels": false, "title": null, "tickSize": {"condition": {"test": "datum.value % 200 === 0", "value": -10.5}, "value": -5.5}}}, "x2": {"datum": 7720},
                    "y": {"datum": 0, "scale": {"domain": [-3.75, 3.75], "nice": false, "zero": false}, "axis": {"orient": "right", "values": [-3.5,-3,-2.5,-2,-1.5,-1,-0.5,0,0.5,1,1.5,2,2.5,3,3.5], "labels": false, "title": null, "tickSize": {"condition": {"test": "datum.value % 2 === 0", "value": -14.8}, "value": -7.4}}}}}
    ]},
    {"width": 297, "height": 211, "resolve": {"axis": {"x": "independent", "y": "independent"}}, "layer": [
      {"data": {"name": "r7"}, "mark": {"type": "line", "color": "black", "strokeWidth": 2.6, "strokeJoin": "round", "clip": true},
       "encoding": {"x": {"field": "w", "type": "quantitative", "scale": {"domain": [6880, 7720], "nice": false, "zero": false}, "axis": {"orient": "bottom", "values": [6900,6950,7000,7050,7100,7150,7200,7250,7300,7350,7400,7450,7500,7550,7600,7650,7700], "labelExpr": "datum.value % 200 === 0 ? format(datum.value, 'd') : ''", "labelFontSize": 30, "labelPadding": 18.5, "labelOverlap": false, "labelFlush": false, "title": null, "tickSize": {"condition": {"test": "datum.value % 200 === 0", "value": -10.5}, "value": -5.5}}},
                    "y": {"field": "v", "type": "quantitative", "scale": {"domain": [-3.75, 3.75], "nice": false, "zero": false}, "axis": {"orient": "left", "values": [-3.5,-3,-2.5,-2,-1.5,-1,-0.5,0,0.5,1,1.5,2,2.5,3,3.5], "labels": false, "title": null, "tickSize": {"condition": {"test": "datum.value % 2 === 0", "value": -14.8}, "value": -7.4}}}}},
      {"data": {"values": [{}]}, "mark": {"type": "rule", "color": "#ec2227", "strokeWidth": 4, "strokeDash": [20, 11]},
       "encoding": {"x": {"datum": 6880, "scale": {"domain": [6880, 7720], "nice": false, "zero": false}, "axis": {"orient": "top", "values": [6900,6950,7000,7050,7100,7150,7200,7250,7300,7350,7400,7450,7500,7550,7600,7650,7700], "labels": false, "title": null, "tickSize": {"condition": {"test": "datum.value % 200 === 0", "value": -10.5}, "value": -5.5}}}, "x2": {"datum": 7720},
                    "y": {"datum": 0, "scale": {"domain": [-3.75, 3.75], "nice": false, "zero": false}, "axis": {"orient": "right", "values": [-3.5,-3,-2.5,-2,-1.5,-1,-0.5,0,0.5,1,1.5,2,2.5,3,3.5], "labels": false, "title": null, "tickSize": {"condition": {"test": "datum.value % 2 === 0", "value": -14.8}, "value": -7.4}}}}}
    ]}
  ]
}
